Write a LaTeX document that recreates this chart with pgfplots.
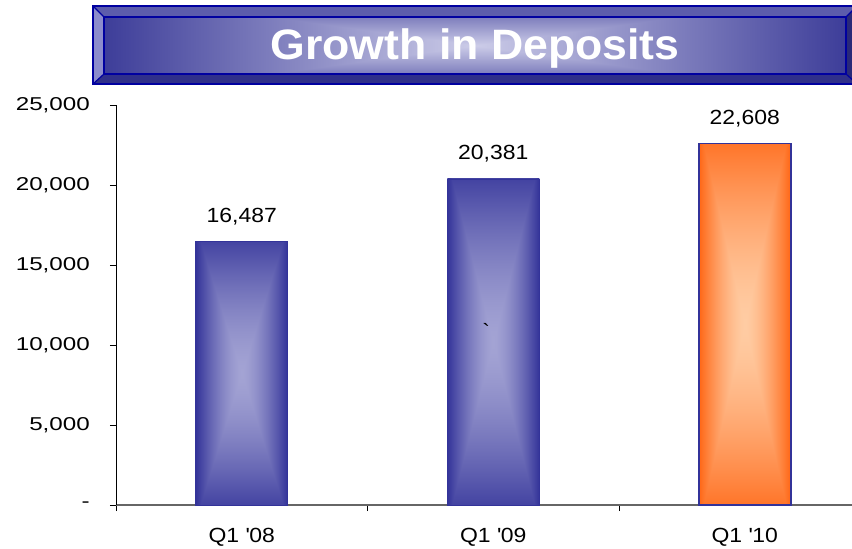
\documentclass[border=0pt]{standalone}
\usepackage{pgfplots}
\pgfplotsset{compat=1.18}
\usepackage{fontspec}
\setmainfont{Liberation Sans}
\newfontfamily\labfont{Liberation Sans}[FakeStretch=1.12]
\newfontfamily\yfont{Liberation Sans}[FakeStretch=1.3]
\newfontfamily\titlefont{Liberation Sans Bold}[FakeStretch=1.05]

\definecolor{bannerline}{HTML}{0000A0}
\definecolor{bevtop}{HTML}{5C5CAC}
\definecolor{bevleft}{HTML}{8C8CCC}
\definecolor{bevbot}{HTML}{30308A}
\definecolor{bevright}{HTML}{2A2A78}
\definecolor{barline}{HTML}{333399}

% rectangular "from centre" gradients (path bbox maps to the central -25..25 square)
\pgfdeclarefunctionalshading{bluebar}{\pgfpoint{-50bp}{-50bp}}{\pgfpoint{50bp}{50bp}}{}{
abs 0.9 mul exch abs 2 copy lt {exch} if pop 25 div dup 1 gt {pop 1} if dup sqrt mul dup dup
-0.23 mul 0.83 add 3 1 roll
-0.44 mul 0.64 add exch
-0.44 mul 0.64 add 3 1 roll exch
}
\pgfdeclarefunctionalshading{orangebar}{\pgfpoint{-50bp}{-50bp}}{\pgfpoint{50bp}{50bp}}{}{
abs 0.9 mul exch abs 2 copy lt {exch} if pop 25 div dup 1 gt {pop 1} if dup sqrt mul dup dup
-0.56 mul 0.64 add 3 1 roll
-0.40 mul 0.80 add exch
0 mul 1.0 add 3 1 roll exch
}
\pgfdeclarefunctionalshading{banner}{\pgfpoint{-50bp}{-50bp}}{\pgfpoint{50bp}{50bp}}{}{
abs 0.55 mul exch abs 2 copy lt {exch} if pop 25 div dup 1 gt {pop 1} if dup dup
-0.31 mul 0.91 add 3 1 roll
-0.56 mul 0.80 add exch
-0.56 mul 0.80 add 3 1 roll exch
}

\begin{document}
\begin{tikzpicture}
\useasboundingbox (0bp,0bp) rectangle (852bp,549bp);
\clip (0bp,0bp) rectangle (852bp,549bp);

% ---- title banner ----
\fill[bevtop]   (93bp,543bp) -- (857bp,543bp) -- (846bp,532bp) -- (104bp,532bp) -- cycle;
\fill[bevleft]  (93bp,465bp) -- (93bp,543bp) -- (104bp,532bp) -- (104bp,475bp) -- cycle;
\fill[bevbot]   (93bp,465bp) -- (857bp,465bp) -- (846bp,475bp) -- (104bp,475bp) -- cycle;
\fill[bevright] (857bp,465bp) -- (857bp,543bp) -- (846bp,532bp) -- (846bp,475bp) -- cycle;
\shade[shading=banner] (104bp,475bp) rectangle (846bp,532bp);
\draw[bannerline, line width=1.2bp] (104bp,475bp) rectangle (846bp,532bp);
\draw[bannerline, line width=1.2bp] (93bp,465bp) -- (104bp,475bp) (93bp,543bp) -- (104bp,532bp)
      (857bp,543bp) -- (846bp,532bp) (857bp,465bp) -- (846bp,475bp);
\draw[bannerline, line width=2bp] (93bp,465bp) rectangle (857bp,543bp);
\node[anchor=base, text=white, inner sep=0pt,
      font=\titlefont\fontsize{42.5bp}{48bp}\selectfont] at (475bp,489bp) {Growth in Deposits};

% ---- chart ----
\begin{axis}[
  at={(116bp,44bp)}, anchor=south west,
  scale only axis, width=754.5bp, height=400bp,
  xmin=-0.5, xmax=2.5, ymin=0, ymax=25000,
  clip=false, scaled y ticks=false, scaled x ticks=false,
  axis x line*=bottom, axis y line*=left,
  x axis line style={draw=black!60, line width=1.5bp},
  y axis line style={draw=black, line width=0.8bp},
  tick align=outside, major tick length=6bp,
  tick style={draw=black, line width=0.8bp},
  xtick={-0.5,0.5,1.5,2.5}, xticklabels={},
  extra x ticks={0,1,2},
  extra x tick labels={Q1 \textquotesingle 08, Q1 \textquotesingle 09, Q1 \textquotesingle 10},
  extra x tick style={major tick length=0pt,
     xticklabel style={font=\labfont\fontsize{20.5bp}{24bp}\selectfont, inner sep=0pt, anchor=north, yshift=-23bp}},
  ytick={0,5000,10000,15000,20000,25000},
  yticklabels={-, {5,000}, {10,000}, {15,000}, {20,000}, {25,000}},
  yticklabel style={font=\yfont\fontsize{18.6bp}{22bp}\selectfont, inner sep=0pt, anchor=east, xshift=-20bp},
  point meta=explicit symbolic,
  nodes near coords,
  every node near coord/.append style={font=\labfont\fontsize{20.5bp}{24bp}\selectfont,
     anchor=base, inner sep=0pt, yshift=19bp, text=black},
]
\addplot[ybar, bar width=92bp, bar shift=0pt, shade, shading=bluebar, draw=barline, line width=0.6bp]
  coordinates {(0,16487) [16,487]};
\addplot[ybar, bar width=92bp, bar shift=0pt, shade, shading=bluebar, draw=barline, line width=0.6bp]
  coordinates {(1,20381) [20,381]};
\addplot[ybar, bar width=92bp, bar shift=0pt, shade, shading=orangebar, draw=barline, line width=1.5bp]
  coordinates {(2,22608) [22,608]};
\node[font=\labfont\fontsize{20.5bp}{24bp}\selectfont, inner sep=0pt] at (axis cs:0.97,10900) {\textasciigrave};
\end{axis}
\end{tikzpicture}
\end{document}
